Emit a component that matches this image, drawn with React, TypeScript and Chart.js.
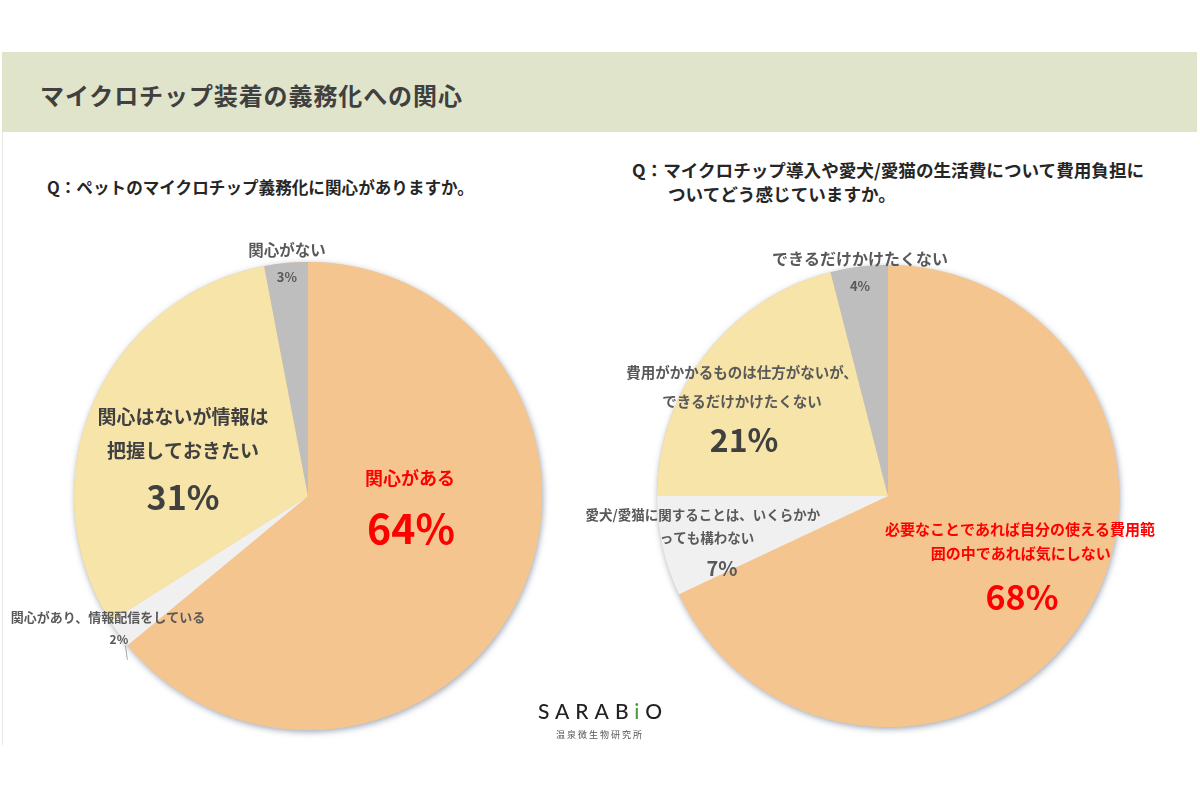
import React, { useEffect, useRef } from "react";
import { Chart, registerables } from "chart.js";

Chart.register(...registerables);

// ---------- data ----------
const pageTitle = "マイクロチップ装着の義務化への関心";
const leftQuestion = "Q：ペットのマイクロチップ義務化に関心がありますか。";
const rightQuestionLines = [
  "Q：マイクロチップ導入や愛犬/愛猫の生活費について費用負担に",
  "ついてどう感じていますか。",
];

const leftCategories = [
  "関心がある",
  "関心があり、情報配信をしている",
  "関心はないが情報は把握しておきたい",
  "関心がない",
];
const leftValues = [64, 2, 31, 3];
const leftLabelLines = [
  ["関心がある"],
  ["関心があり、情報配信をしている"],
  ["関心はないが情報は", "把握しておきたい"],
  ["関心がない"],
];

const rightCategories = [
  "必要なことであれば自分の使える費用範囲の中であれば気にしない",
  "愛犬/愛猫に関することは、いくらかかっても構わない",
  "費用がかかるものは仕方がないが、できるだけかけたくない",
  "できるだけかけたくない",
];
const rightValues = [68, 7, 21, 4];
const rightLabelLines = [
  ["必要なことであれば自分の使える費用範", "囲の中であれば気にしない"],
  ["愛犬/愛猫に関することは、いくらかか", "っても構わない"],
  ["費用がかかるものは仕方がないが、", "できるだけかけたくない"],
  ["できるだけかけたくない"],
];

// ---------- styles ----------
const sliceColors = ["#F5C58F", "#F0F0F0", "#F7E4A9", "#BEBEBE"];
const FONT = '"Noto Sans CJK JP", "Noto Sans", sans-serif';

type LabelStyle = {
  xs: number[];
  ys: number[];
  px: number;
  py: number;
  size: number;
  pctSize: number;
  color: string;
  pctColor: string;
  leader?: number[];
};

// positions as fractions of the pie radius, relative to the pie center
const leftLabelStyle: LabelStyle[] = [
  { xs: [0.436], ys: [-0.077], px: 0.44, py: 0.137, size: 18, pctSize: 41, color: "#FF0000", pctColor: "#FF0000" },
  { xs: [-0.855], ys: [0.517], px: -0.808, py: 0.611, size: 13, pctSize: 12, color: "#595959", pctColor: "#595959", leader: [-0.78, 0.64, -0.772, 0.70] },
  { xs: [-0.534, -0.534], ys: [-0.338, -0.192], px: -0.534, py: 0.004, size: 19, pctSize: 34, color: "#404040", pctColor: "#404040" },
  { xs: [-0.09], ys: [-1.051], px: -0.09, py: -0.936, size: 15.5, pctSize: 13, color: "#595959", pctColor: "#595959" },
];
const rightLabelStyle: LabelStyle[] = [
  { xs: [0.571, 0.575], ys: [0.143, 0.247], px: 0.58, py: 0.437, size: 15, pctSize: 34, color: "#FF0000", pctColor: "#FF0000" },
  { xs: [-0.801, -0.784], ys: [0.082, 0.182], px: -0.719, py: 0.312, size: 13.5, pctSize: 20, color: "#595959", pctColor: "#595959" },
  { xs: [-0.632, -0.632], ys: [-0.533, -0.411], px: -0.623, py: -0.242, size: 14.5, pctSize: 32, color: "#595959", pctColor: "#404040" },
  { xs: [-0.121], ys: [-1.026], px: -0.121, py: -0.909, size: 16, pctSize: 13, color: "#595959", pctColor: "#595959" },
];

const shadowPlugin = {
  id: "pieShadow",
  beforeDatasetsDraw(chart: any) {
    const arc = chart.getDatasetMeta(0).data[0];
    if (!arc) return;
    const { x, y, outerRadius } = arc.getProps(["x", "y", "outerRadius"], true);
    const ctx = chart.ctx;
    ctx.save();
    ctx.beginPath();
    ctx.arc(x, y, outerRadius, 0, Math.PI * 2);
    ctx.shadowColor = "rgba(80,95,120,0.55)";
    ctx.shadowBlur = 6;
    ctx.shadowOffsetX = 1;
    ctx.shadowOffsetY = 2;
    ctx.fillStyle = "#F5C58F";
    ctx.fill();
    ctx.restore();
  },
};

const labelPlugin = {
  id: "sliceLabels",
  afterDatasetsDraw(chart: any, _args: any, opts: any) {
    const meta = chart.getDatasetMeta(0);
    const arc = meta.data[0];
    if (!arc) return;
    const { x, y, outerRadius: r } = arc.getProps(["x", "y", "outerRadius"], true);
    const ctx = chart.ctx;
    const values: number[] = chart.data.datasets[0].data;
    const lines: string[][] = opts.lines;
    const styles: LabelStyle[] = opts.styles;
    ctx.save();
    ctx.textAlign = "center";
    ctx.textBaseline = "middle";
    values.forEach((v, i) => {
      const s = styles[i];
      ctx.fillStyle = s.color;
      ctx.font = `bold ${s.size}px ${FONT}`;
      lines[i].forEach((t, j) => {
        ctx.fillText(t, x + s.xs[j] * r, y + s.ys[j] * r);
      });
      ctx.fillStyle = s.pctColor;
      ctx.font = `bold ${s.pctSize}px ${FONT}`;
      ctx.fillText(`${v}%`, x + s.px * r, y + s.py * r);
      if (s.leader) {
        ctx.strokeStyle = "#A6A6A6";
        ctx.lineWidth = 1;
        ctx.beginPath();
        ctx.moveTo(x + s.leader[0] * r, y + s.leader[1] * r);
        ctx.lineTo(x + s.leader[2] * r, y + s.leader[3] * r);
        ctx.stroke();
      }
    });
    ctx.restore();
  },
};

function PieChart(props: {
  categories: string[];
  values: number[];
  lines: string[][];
  styles: LabelStyle[];
  width: number;
  height: number;
  padX: number;
  padY: number;
  left: number;
  top: number;
}) {
  const ref = useRef<HTMLCanvasElement>(null);
  useEffect(() => {
    if (!ref.current) return;
    const chart = new Chart(ref.current, {
      type: "pie",
      data: {
        labels: props.categories,
        datasets: [
          {
            data: props.values,
            backgroundColor: sliceColors,
            borderWidth: 0,
          },
        ],
      },
      options: {
        animation: false,
        responsive: false,
        devicePixelRatio: 1,
        layout: { padding: { left: props.padX, right: props.padX, top: props.padY, bottom: props.padY } },
        plugins: {
          legend: { display: false },
          tooltip: { enabled: false },
          sliceLabels: { lines: props.lines, styles: props.styles },
        } as any,
      },
      plugins: [shadowPlugin, labelPlugin],
    });
    return () => chart.destroy();
  }, []);
  return (
    <canvas
      ref={ref}
      width={props.width}
      height={props.height}
      style={{ position: "absolute", left: props.left, top: props.top, width: props.width, height: props.height }}
    />
  );
}

export default function App() {
  return (
    <div
      style={{
        position: "absolute",
        left: 0,
        top: 0,
        width: 1200,
        height: 800,
        background: "#FFFFFF",
        overflow: "hidden",
        fontFamily: FONT,
      }}
    >
      <div
        style={{
          position: "absolute",
          left: 2,
          top: 52,
          width: 1,
          height: 693,
          background: "#E8E8E8",
        }}
      />
      <div
        style={{
          position: "absolute",
          left: 2,
          top: 52,
          width: 1195,
          height: 80,
          background: "#DFE4CB",
        }}
      />
      <div
        style={{
          position: "absolute",
          left: 40,
          top: 80,
          fontSize: 24,
          fontWeight: 700,
          color: "#404040",
          lineHeight: "30px",
          letterSpacing: 0.9,
          whiteSpace: "nowrap",
        }}
      >
        {pageTitle}
      </div>
      <div
        style={{
          position: "absolute",
          left: 47,
          top: 175,
          fontSize: 16.6,
          fontWeight: 700,
          color: "#262626",
          lineHeight: "24px",
          whiteSpace: "nowrap",
        }}
      >
        {leftQuestion}
      </div>
      <div
        style={{
          position: "absolute",
          left: 632,
          top: 158,
          fontSize: 17.6,
          fontWeight: 700,
          color: "#262626",
          lineHeight: "24px",
          whiteSpace: "nowrap",
        }}
      >
        <div>{rightQuestionLines[0]}</div>
        <div style={{ paddingLeft: 36 }}>{rightQuestionLines[1]}</div>
      </div>

      <PieChart
        categories={leftCategories}
        values={leftValues}
        lines={leftLabelLines}
        styles={leftLabelStyle}
        width={600}
        height={560}
        padX={66}
        padY={46}
        left={8}
        top={216}
      />
      <PieChart
        categories={rightCategories}
        values={rightValues}
        lines={rightLabelLines}
        styles={rightLabelStyle}
        width={620}
        height={560}
        padX={79}
        padY={49}
        left={578}
        top={216}
      />

      <div
        style={{
          position: "absolute",
          left: 530,
          top: 697,
          width: 140,
          textAlign: "center",
          fontFamily: "Lato, 'Open Sans', sans-serif",
          fontSize: 21,
          fontWeight: 500,
          letterSpacing: 6,
          color: "#222222",
          lineHeight: "28px",
          whiteSpace: "nowrap",
          paddingLeft: 6,
          boxSizing: "border-box",
        }}
      >
        SARAB<span style={{ color: "#4E9A3A" }}>i</span>O
      </div>
      <div
        style={{
          position: "absolute",
          left: 530,
          top: 728,
          width: 140,
          textAlign: "center",
          fontSize: 9,
          letterSpacing: 2,
          color: "#555555",
          lineHeight: "14px",
          whiteSpace: "nowrap",
        }}
      >
        温泉微生物研究所
      </div>
    </div>
  );
}
